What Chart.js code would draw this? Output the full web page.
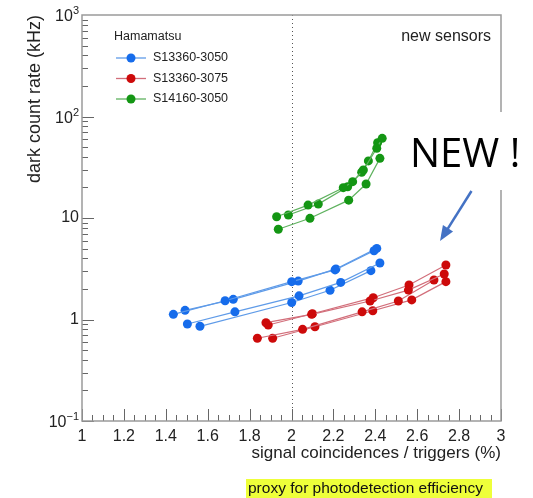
<!DOCTYPE html>
<html>
<head>
<meta charset="utf-8">
<script src="https://cdn.jsdelivr.net/npm/chart.js@4"></script>
<style>
  html, body { margin: 0; padding: 0; background: #fff; }
  #wrap { width: 533px; height: 498px; }
</style>
</head>
<body>
<div id="wrap"><canvas id="c" width="533" height="498"></canvas></div>
<script>
"use strict";

// S13360-3050 (blue), four scans
const b1x = [1.436, 1.683, 2.001, 2.208, 2.394];
const b1y = [1.125, 1.53, 2.36, 3.08, 4.76];
const b2x = [1.492, 1.722, 2.032, 2.212, 2.407];
const b2y = [1.23, 1.58, 2.39, 3.15, 5.02];
const b3x = [1.503, 1.730, 2.036, 2.235, 2.422];
const b3y = [0.903, 1.19, 1.71, 2.32, 3.60];
const b4x = [1.563, 2.001, 2.184, 2.379];
const b4y = [0.857, 1.47, 1.94, 3.03];

// S13360-3075 (red)
const r1x = [1.878, 2.096, 2.375, 2.558, 2.729];
const r1y = [0.930, 1.125, 1.52, 1.95, 2.81];
const r2x = [1.889, 2.100, 2.390, 2.561, 2.737];
const r2y = [0.883, 1.14, 1.64, 2.19, 3.44];
const r3x = [1.837, 2.053, 2.337, 2.510, 2.680];
const r3y = [0.653, 0.80, 1.19, 1.52, 2.45];
const r4x = [1.910, 2.112, 2.388, 2.574, 2.737];
const r4y = [0.653, 0.849, 1.22, 1.56, 2.36];

// S14160-3050 (green)
const g1x = [1.937, 2.088, 2.273, 2.356, 2.422];
const g1y = [7.74, 9.93, 15.0, 21.6, 38.7];
const g2x = [1.929, 2.079, 2.247, 2.292, 2.343, 2.407, 2.433];
const g2y = [10.3, 13.4, 19.9, 22.8, 29.7, 48.6, 60.9];
const g3x = [1.985, 2.128, 2.268, 2.335, 2.367, 2.411];
const g3y = [10.7, 13.7, 20.3, 28.2, 36.5, 55.2];

const SERIES = ["S13360-3050", "S13360-3075", "S14160-3050"];
const yDecades = [-1, 0, 1, 2, 3];

const DOT  = ["rgb(22,108,235)", "rgb(205,10,10)", "rgb(20,150,20)"];
const LINE = ["rgb(95,155,232)", "rgb(210,110,122)", "rgb(95,178,95)"];
const FONT = "'Liberation Sans', Arial, sans-serif";

const curves = [
  [2, g1x, g1y], [2, g2x, g2y], [2, g3x, g3y],
  [0, b1x, b1y], [0, b2x, b2y], [0, b3x, b3y], [0, b4x, b4y],
  [1, r1x, r1y], [1, r2x, r2y], [1, r3x, r3y], [1, r4x, r4y],
];

const pts = (xs, ys) => xs.map((x, i) => ({ x, y: ys[i] }));

const datasets = curves.map(([s, xs, ys]) => ({
  label: SERIES[s],
  data: pts(xs, ys),
  showLine: true,
  borderColor: LINE[s],
  borderWidth: 1.2,
  backgroundColor: DOT[s],
  pointBackgroundColor: DOT[s],
  pointBorderWidth: 0,
  pointRadius: 4.5,
}));

function drawPow(ctx, e, xr, y) {
  ctx.textAlign = "right";
  ctx.textBaseline = "middle";
  if (e === 0 || e === 1) {
    ctx.font = "16px " + FONT;
    ctx.fillText(e ? "10" : "1", xr, y);
    return;
  }
  const sup = e < 0 ? "\u2212" + (-e) : String(e);
  ctx.font = "11px " + FONT;
  const sw = ctx.measureText(sup).width;
  ctx.fillText(sup, xr, y - 4);
  ctx.font = "16px " + FONT;
  ctx.fillText("10", xr - sw, y + 2);
}

const deco = {
  id: "deco",
  beforeDatasetsDraw(chart) {
    const { ctx, chartArea: a, scales: { x } } = chart;
    const px = Math.round(x.getPixelForValue(2)) + 0.5;
    ctx.save();
    ctx.strokeStyle = "#555";
    ctx.lineWidth = 1;
    ctx.setLineDash([1, 3]);
    ctx.beginPath(); ctx.moveTo(px, a.top); ctx.lineTo(px, a.bottom); ctx.stroke();
    ctx.restore();
  },
  afterDraw(chart) {
    const { ctx, chartArea: a, scales: { x, y } } = chart;
    ctx.save();

    // inward ticks
    ctx.strokeStyle = "#666";
    ctx.lineWidth = 1;
    ctx.beginPath();
    for (let i = 0; i <= 40; i++) {
      const px = Math.round(x.getPixelForValue(1 + i * 0.05)) + 0.5;
      const len = i % 4 === 0 ? 12 : 6;
      ctx.moveTo(px, a.bottom); ctx.lineTo(px, a.bottom - len);
    }
    for (let e = -1; e < 3; e++) {
      for (let k = 1; k <= 9; k++) {
        const py = Math.round(y.getPixelForValue(k * Math.pow(10, e))) + 0.5;
        const len = k === 1 ? 12 : 6;
        ctx.moveTo(a.left, py); ctx.lineTo(a.left + len, py);
      }
    }
    ctx.stroke();

    // frame
    ctx.strokeStyle = "#9a9a9a";
    ctx.lineWidth = 1.5;
    ctx.strokeRect(a.left, a.top, a.right - a.left, a.bottom - a.top);

    // y tick labels
    ctx.fillStyle = "#222";
    yDecades.forEach(e => drawPow(ctx, e, 79, y.getPixelForValue(Math.pow(10, e))));

    // axis titles
    ctx.font = "17px " + FONT;
    ctx.textAlign = "right";
    ctx.textBaseline = "alphabetic";
    ctx.fillText("signal coincidences / triggers (%)", a.right, 458);
    ctx.save();
    ctx.translate(40, a.top);
    ctx.rotate(-Math.PI / 2);
    ctx.font = "18px " + FONT;
    ctx.textAlign = "right";
    ctx.fillText("dark count rate (kHz)", 0, 0);
    ctx.restore();

    // legend
    ctx.textAlign = "left";
    ctx.textBaseline = "middle";
    ctx.font = "12.5px " + FONT;
    ctx.fillText("Hamamatsu", 114, 37);
    SERIES.forEach((name, i) => {
      const ly = 58 + i * 20.5;
      ctx.strokeStyle = LINE[i];
      ctx.lineWidth = 1.3;
      ctx.beginPath(); ctx.moveTo(116, ly); ctx.lineTo(146, ly); ctx.stroke();
      ctx.fillStyle = DOT[i];
      ctx.beginPath(); ctx.arc(131, ly, 4.5, 0, Math.PI * 2); ctx.fill();
      ctx.fillStyle = "#222";
      ctx.fillText(name, 153, ly);
    });
    ctx.textAlign = "right";
    ctx.font = "16px " + FONT;
    ctx.fillText("new sensors", 491, 37);

    // NEW ! callout box covering the frame edge
    ctx.fillStyle = "#fff";
    ctx.fillRect(403, 112, 130, 78);
    ctx.fillStyle = "#000";
    ctx.textAlign = "left";
    ctx.textBaseline = "alphabetic";
    ctx.font = "40px 'Open Sans', sans-serif";
    ctx.fillText("NEW !", 410, 167);

    // arrow
    const ax0 = 471.5, ay0 = 191, ax1 = 440, ay1 = 241;
    const ang = Math.atan2(ay1 - ay0, ax1 - ax0);
    ctx.strokeStyle = "rgb(68,114,196)";
    ctx.fillStyle = "rgb(68,114,196)";
    ctx.lineWidth = 2.5;
    ctx.beginPath();
    ctx.moveTo(ax0, ay0);
    ctx.lineTo(ax1 - 12 * Math.cos(ang), ay1 - 12 * Math.sin(ang));
    ctx.stroke();
    ctx.beginPath();
    ctx.moveTo(ax1, ay1);
    ctx.lineTo(ax1 - 15 * Math.cos(ang) + 6 * Math.sin(ang), ay1 - 15 * Math.sin(ang) - 6 * Math.cos(ang));
    ctx.lineTo(ax1 - 15 * Math.cos(ang) - 6 * Math.sin(ang), ay1 - 15 * Math.sin(ang) + 6 * Math.cos(ang));
    ctx.closePath();
    ctx.fill();

    // highlighted note
    ctx.fillStyle = "#eeff3a";
    ctx.fillRect(246, 479, 246, 19);
    ctx.fillStyle = "#111";
    ctx.font = "15.5px " + FONT;
    ctx.textAlign = "left";
    ctx.textBaseline = "middle";
    ctx.fillText("proxy for photodetection efficiency", 248, 489);

    ctx.restore();
  }
};

Chart.defaults.font.family = FONT;

new Chart(document.getElementById("c"), {
  type: "scatter",
  data: { datasets },
  options: {
    responsive: false,
    animation: false,
    devicePixelRatio: 1,
    layout: { padding: { top: 15, right: 32, left: 0, bottom: 0 } },
    plugins: { legend: { display: false }, tooltip: { enabled: false } },
    scales: {
      x: {
        type: "linear", min: 1, max: 3,
        grid: { display: false, drawTicks: false },
        border: { display: false },
        ticks: {
          stepSize: 0.2, autoSkip: false, maxRotation: 0, padding: 6,
          color: "#222", font: { size: 16 },
          callback: v => String(+Number(v).toFixed(1)),
        },
        afterFit: s => { s.height = 77; },
      },
      y: {
        type: "logarithmic", min: 0.1, max: 1000,
        grid: { display: false, drawTicks: false },
        border: { display: false },
        ticks: { display: false },
        afterFit: s => { s.width = 82; },
      },
    },
  },
  plugins: [deco],
});
</script>
</body>
</html>
